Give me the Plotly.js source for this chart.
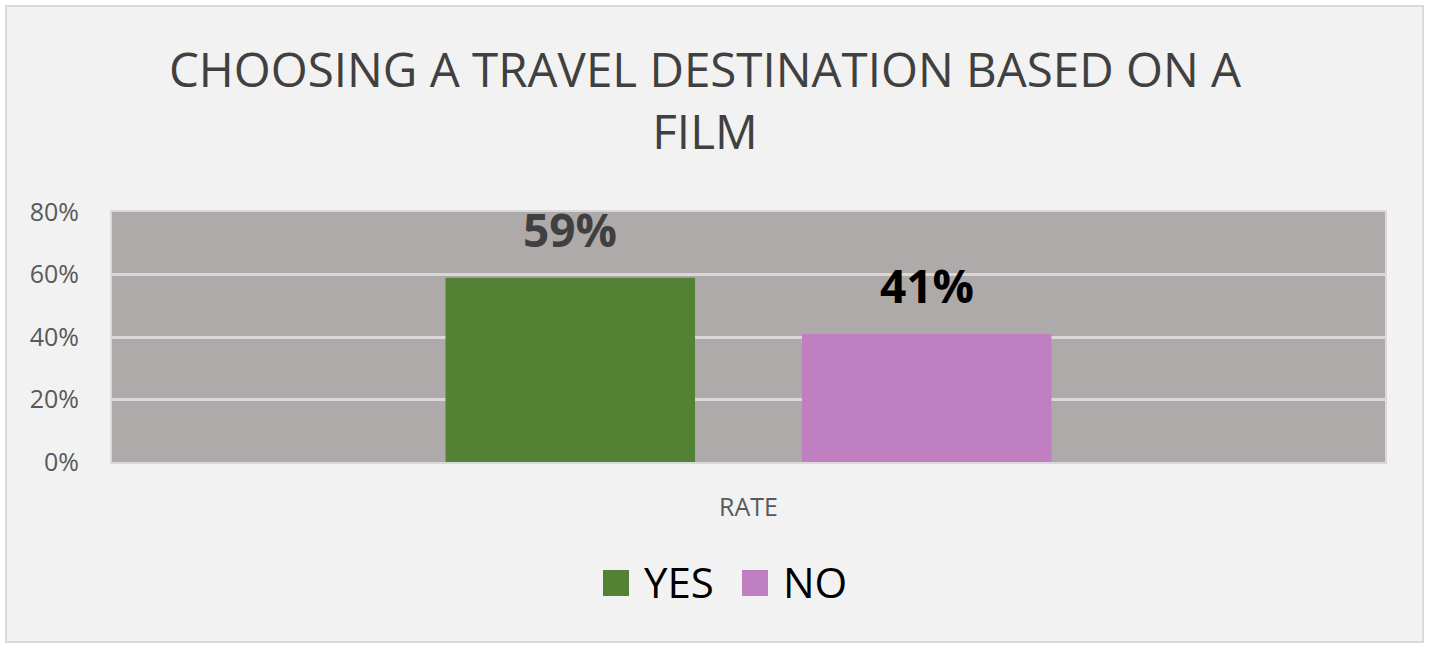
<!DOCTYPE html>
<html>
<head>
<meta charset="utf-8">
<script src="https://cdn.plot.ly/plotly-3.0.1.min.js"></script>
<style>
  html, body { margin: 0; padding: 0; background: #ffffff; }
  #chart { position: absolute; left: 5px; top: 5px; width: 1415px; height: 634px;
           border: 2px solid #d9d9d9; background: #f2f2f2; }
</style>
</head>
<body>
<div id="chart"></div>
<script>
// ---- data ----
const categories = ["RATE"];
const seriesNames = ["YES", "NO"];
const yesValues = [0.59];
const noValues = [0.41];
const seriesColors = ["#548235", "#c07fc1"];
const labelColors = ["#404040", "#000000"];
const titleText = "CHOOSING A TRAVEL DESTINATION BASED ON A<br>FILM";
const yTickVals = [0, 0.2, 0.4, 0.6, 0.8];

const FONT = "Open Sans, sans-serif";
const W = 1415, H = 634;
const M = { l: 105, r: 37, t: 205, b: 179 };
const bargap = 0.44, bargroupgap = 0.30;

const seriesValues = [yesValues, noValues];
const traces = seriesNames.map((name, i) => ({
  type: "bar",
  name: name,
  x: categories,
  y: seriesValues[i],
  marker: { color: seriesColors[i] },
  hoverinfo: "x+y+name",
  showlegend: false
}));

// data labels placed above bars, positions derived from the data & bar layout
const nS = seriesNames.length;
const slot = (1 - bargap) / nS;
const annotations = [];
seriesNames.forEach((name, i) => {
  seriesValues[i].forEach((v, j) => {
    annotations.push({
      x: j + (i - (nS - 1) / 2) * slot,
      y: v, xref: "x", yref: "y",
      text: Math.round(v * 100) + "%",
      showarrow: false, yanchor: "bottom", yshift: 16,
      font: { family: FONT, size: 46, color: labelColors[i], weight: 700 }
    });
  });
});

// custom legend (large squares like the original)
const plotW = W - M.l - M.r, plotH = H - M.t - M.b;
const pxX = px => (px - (7 + M.l)) / plotW;
const pxY = py => (7 + M.t + plotH - py) / plotH;
const legendItems = [
  { sq: 603, tx: 642 },
  { sq: 742, tx: 781 }
];
const shapes = [];
seriesNames.forEach((name, i) => {
  const it = legendItems[i];
  shapes.push({
    type: "rect", xref: "paper", yref: "paper",
    x0: pxX(it.sq), x1: pxX(it.sq + 26), y0: pxY(596), y1: pxY(570),
    fillcolor: seriesColors[i], line: { width: 0 }
  });
  annotations.push({
    xref: "paper", yref: "paper", x: pxX(it.tx), y: pxY(581),
    xanchor: "left", yanchor: "middle", showarrow: false,
    text: name, font: { family: FONT, size: 42, color: "#000000" }
  });
});

const layout = {
  width: W, height: H,
  margin: M,
  paper_bgcolor: "#f2f2f2",
  plot_bgcolor: "#aeaaaa",
  font: { family: FONT, color: "#595959" },
  title: {
    text: titleText,
    font: { family: FONT, size: 47.5, color: "#404040" },
    x: (705 - 7) / W, xanchor: "center",
    y: 1 - 80 / H, yanchor: "top", yref: "container"
  },
  barmode: "group",
  bargap: bargap,
  bargroupgap: bargroupgap,
  showlegend: false,
  xaxis: {
    type: "category",
    showgrid: false, zeroline: false,
    showline: true, mirror: true, linecolor: "#d9d9d9", linewidth: 2,
    ticks: "", ticklabelstandoff: 22,
    tickfont: { family: FONT, size: 25, color: "#595959" }
  },
  yaxis: {
    range: [0, 0.8],
    tickvals: yTickVals,
    tickformat: ".0%",
    showgrid: true, gridcolor: "#d9d9d9", gridwidth: 3,
    zeroline: false,
    showline: true, mirror: true, linecolor: "#d9d9d9", linewidth: 2,
    ticks: "", ticklabelstandoff: 26,
    tickfont: { family: FONT, size: 25, color: "#595959" }
  },
  shapes: shapes,
  annotations: annotations
};

Plotly.newPlot("chart", traces, layout, { displayModeBar: false, responsive: false });
</script>
</body>
</html>
